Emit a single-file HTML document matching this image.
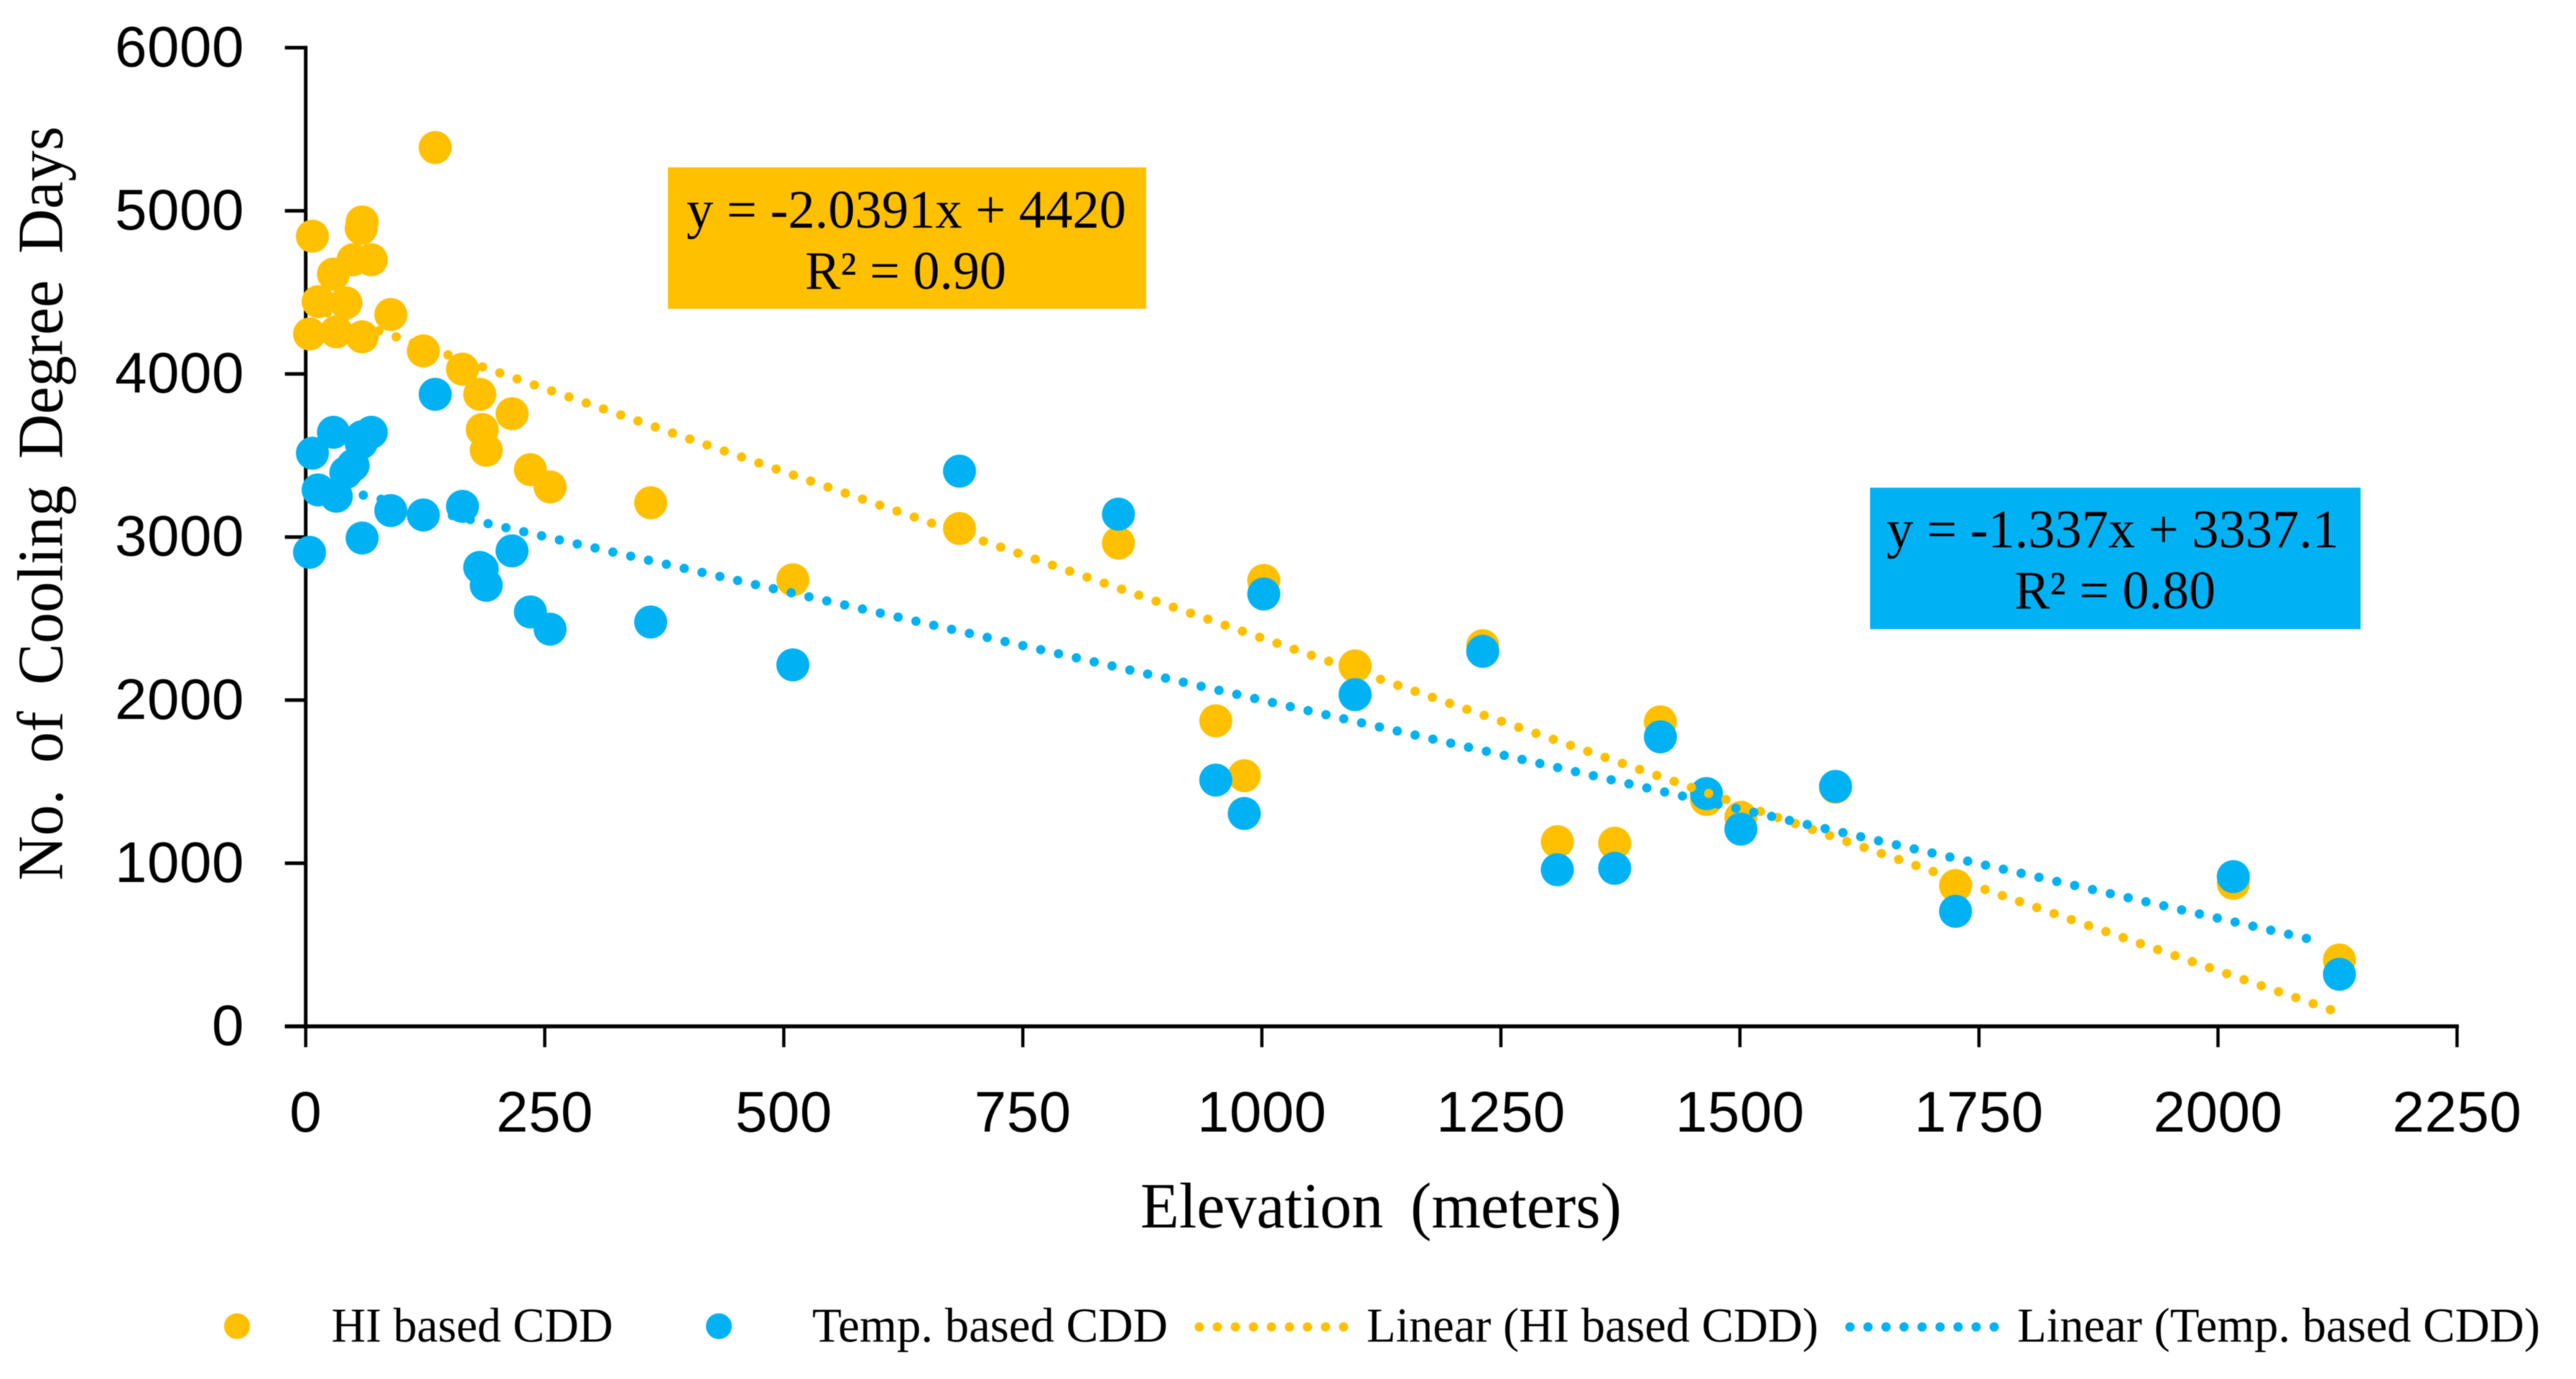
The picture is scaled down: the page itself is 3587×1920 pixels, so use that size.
<!DOCTYPE html>
<html lang="en">
<head>
<meta charset="utf-8">
<title>Cooling Degree Days vs Elevation</title>
<style>
html,body{margin:0;padding:0;background:#fff;}
svg{display:block;filter:blur(0.6px);}
.tick-label{font-family:"Liberation Sans",sans-serif;font-size:80px;fill:#000;}
.serif{font-family:"Liberation Serif",serif;fill:#000;}
</style>
</head>
<body>
<svg id="chart" xmlns="http://www.w3.org/2000/svg" width="3587" height="1920" viewBox="0 0 3587 1920">
<rect x="0" y="0" width="3587" height="1920" fill="#fff"/>
<g id="axes"></g>
<g id="hi-points"></g>
<g id="temp-points"></g>
<g id="trends"></g>

<rect x="930" y="233" width="666" height="197" fill="#FFC000"/>
<text class="serif" x="956" y="317" font-size="75" textLength="612" lengthAdjust="spacingAndGlyphs">y = -2.0391x + 4420</text>
<text class="serif" x="1121" y="402" font-size="75" textLength="280" lengthAdjust="spacingAndGlyphs">R² = 0.90</text>

<rect x="2604" y="679" width="683" height="197" fill="#00B2F3"/>
<text class="serif" x="2627" y="762" font-size="75" textLength="630" lengthAdjust="spacingAndGlyphs">y = -1.337x + 3337.1</text>
<text class="serif" x="2805" y="847" font-size="75" textLength="280" lengthAdjust="spacingAndGlyphs">R² = 0.80</text>

<text class="serif" transform="translate(86.5 1226) rotate(-90)" x="0" y="0" font-size="90" word-spacing="16" textLength="1050" lengthAdjust="spacingAndGlyphs">No. of Cooling Degree Days</text>
<text class="serif" x="1588" y="1709" font-size="90" word-spacing="16" textLength="670" lengthAdjust="spacingAndGlyphs">Elevation (meters)</text>

<g>
<g>
<ellipse cx="330" cy="1846.5" rx="18" ry="18" fill="#FFC000"/>
<text class="serif" x="461.5" y="1868" font-size="68" textLength="392" lengthAdjust="spacingAndGlyphs">HI based CDD</text>
</g>
<g>
<ellipse cx="1001" cy="1846.5" rx="18" ry="18" fill="#00B2F3"/>
<text class="serif" x="1131" y="1868" font-size="68" textLength="495" lengthAdjust="spacingAndGlyphs">Temp. based CDD</text>
</g>
<g>
<line x1="1670" y1="1847.5" x2="1871" y2="1847.5" stroke="#FFC000" stroke-width="13" stroke-linecap="round" stroke-dasharray="0 25.1"/>
<text class="serif" x="1903" y="1868" font-size="68" textLength="629" lengthAdjust="spacingAndGlyphs">Linear (HI based CDD)</text>
</g>
<g>
<line x1="2576" y1="1847.5" x2="2777" y2="1847.5" stroke="#00B2F3" stroke-width="13" stroke-linecap="round" stroke-dasharray="0 25.1"/>
<text class="serif" x="2809" y="1868" font-size="68" textLength="728" lengthAdjust="spacingAndGlyphs">Linear (Temp. based CDD)</text>
</g>
</g>
</svg>

<script>
const xTicks = [0, 250, 500, 750, 1000, 1250, 1500, 1750, 2000, 2250];
const yTicks = [0, 1000, 2000, 3000, 4000, 5000, 6000];

const elevation = [4, 7, 13, 29, 32, 42, 49.5, 58, 59, 59, 68.6, 89, 123, 135.4, 164, 182, 184.6, 188.8, 215.8, 235, 255.6, 360.8, 509.5, 683.8, 850, 951.8, 981.6, 1002, 1097.5, 1231, 1309, 1369, 1416.8, 1465, 1501, 1600, 1725.5, 2016, 2127];
const hiCdd = [4245, 4844, 4443, 4612, 4258, 4436, 4700, 4892, 4932, 4227, 4700, 4364, 4141, 5388, 4029, 3875, 3659, 3532, 3756, 3413, 3307, 3210, 2738, 3052, 2963, 1873, 1537, 2734, 2210, 2334, 1132, 1123, 1867, 1391, 1281, 1466, 863, 876, 407];
const tempCdd = [2906, 3514, 3289, 3642, 3250, 3395, 3439, 3576, 3615, 2994, 3642, 3162, 3135, 3875, 3188, 2814, 2805, 2704, 2915, 2541, 2435, 2479, 2216, 3404, 3140, 1510, 1305, 2651, 2034, 2299, 960, 969, 1775, 1427, 1209, 1471, 705, 918, 319];

const hiTrendX = [4.3, 2118];
const hiTrendY = [4411.2, 101.2];
const tempTrendX = [4.3, 2111];
const tempTrendY = [3331.4, 514.7];

const SVG_NS = 'http://www.w3.org/2000/svg';
function xScale(v) { return 425.7 + v * 1.3314; }
function yScale(v) { return 1429 - v * 0.2271; }
function make(tag, parent) {
  const el = document.createElementNS(SVG_NS, tag);
  parent.appendChild(el);
  return el;
}
function setAll(el, pairs) {
  for (const k in pairs) el.setAttribute(k, pairs[k]);
}

const axes = document.getElementById('axes');
const yLine = make('line', axes);
setAll(yLine, {x1: xScale(0), x2: xScale(0), y1: yScale(6000) - 2.5, y2: yScale(0), stroke: '#000', 'stroke-width': 5});


const xLine = make('line', axes);
setAll(xLine, {x1: xScale(0) - 29, x2: xScale(2250) + 2.5, y1: yScale(0), y2: yScale(0), stroke: '#000', 'stroke-width': 5.5});



yTicks.forEach(function (t) {
  const mark = make('line', axes);
  setAll(mark, {x1: xScale(0) - 29, x2: xScale(0), y1: yScale(t), y2: yScale(t), stroke: '#000', 'stroke-width': 5});
  
  
  const label = make('text', axes);
  setAll(label, {x: 340, y: yScale(t) + 26, 'text-anchor': 'end', class: 'tick-label', 'letter-spacing': 0.5});
  label.textContent = String(t);
  
  
});
xTicks.forEach(function (t) {
  const mark = make('line', axes);
  setAll(mark, {x1: xScale(t), x2: xScale(t), y1: yScale(0), y2: yScale(0) + 29, stroke: '#000', 'stroke-width': 4.5});
  
  
  const label = make('text', axes);
  setAll(label, {x: xScale(t), y: 1575.5, 'text-anchor': 'middle', class: 'tick-label', 'letter-spacing': 0.5});
  label.textContent = String(t);
  
  
});

const hiGroup = document.getElementById('hi-points');
hiCdd.forEach(function (v, i) {
  const c = make('circle', hiGroup);
  setAll(c, {cx: xScale(elevation[i]), cy: yScale(v), r: 23, fill: '#FFC000'});
  
  
});
const tempGroup = document.getElementById('temp-points');
tempCdd.forEach(function (v, i) {
  const c = make('circle', tempGroup);
  setAll(c, {cx: xScale(elevation[i]), cy: yScale(v), r: 23, fill: '#00B2F3'});
  
  
});

const trends = document.getElementById('trends');
const hiTrend = make('line', trends);
setAll(hiTrend, {x1: xScale(hiTrendX[0]), y1: yScale(hiTrendY[0]), x2: xScale(hiTrendX[1]), y2: yScale(hiTrendY[1]), stroke: '#FFC000', 'stroke-width': 13, 'stroke-linecap': 'round', 'stroke-dasharray': '0 25.46'});


const tempTrend = make('line', trends);
setAll(tempTrend, {x1: xScale(tempTrendX[0]), y1: yScale(tempTrendY[0]), x2: xScale(tempTrendX[1]), y2: yScale(tempTrendY[1]), stroke: '#00B2F3', 'stroke-width': 13, 'stroke-linecap': 'round', 'stroke-dasharray': '0 25.46'});


</script>
</body>
</html>
